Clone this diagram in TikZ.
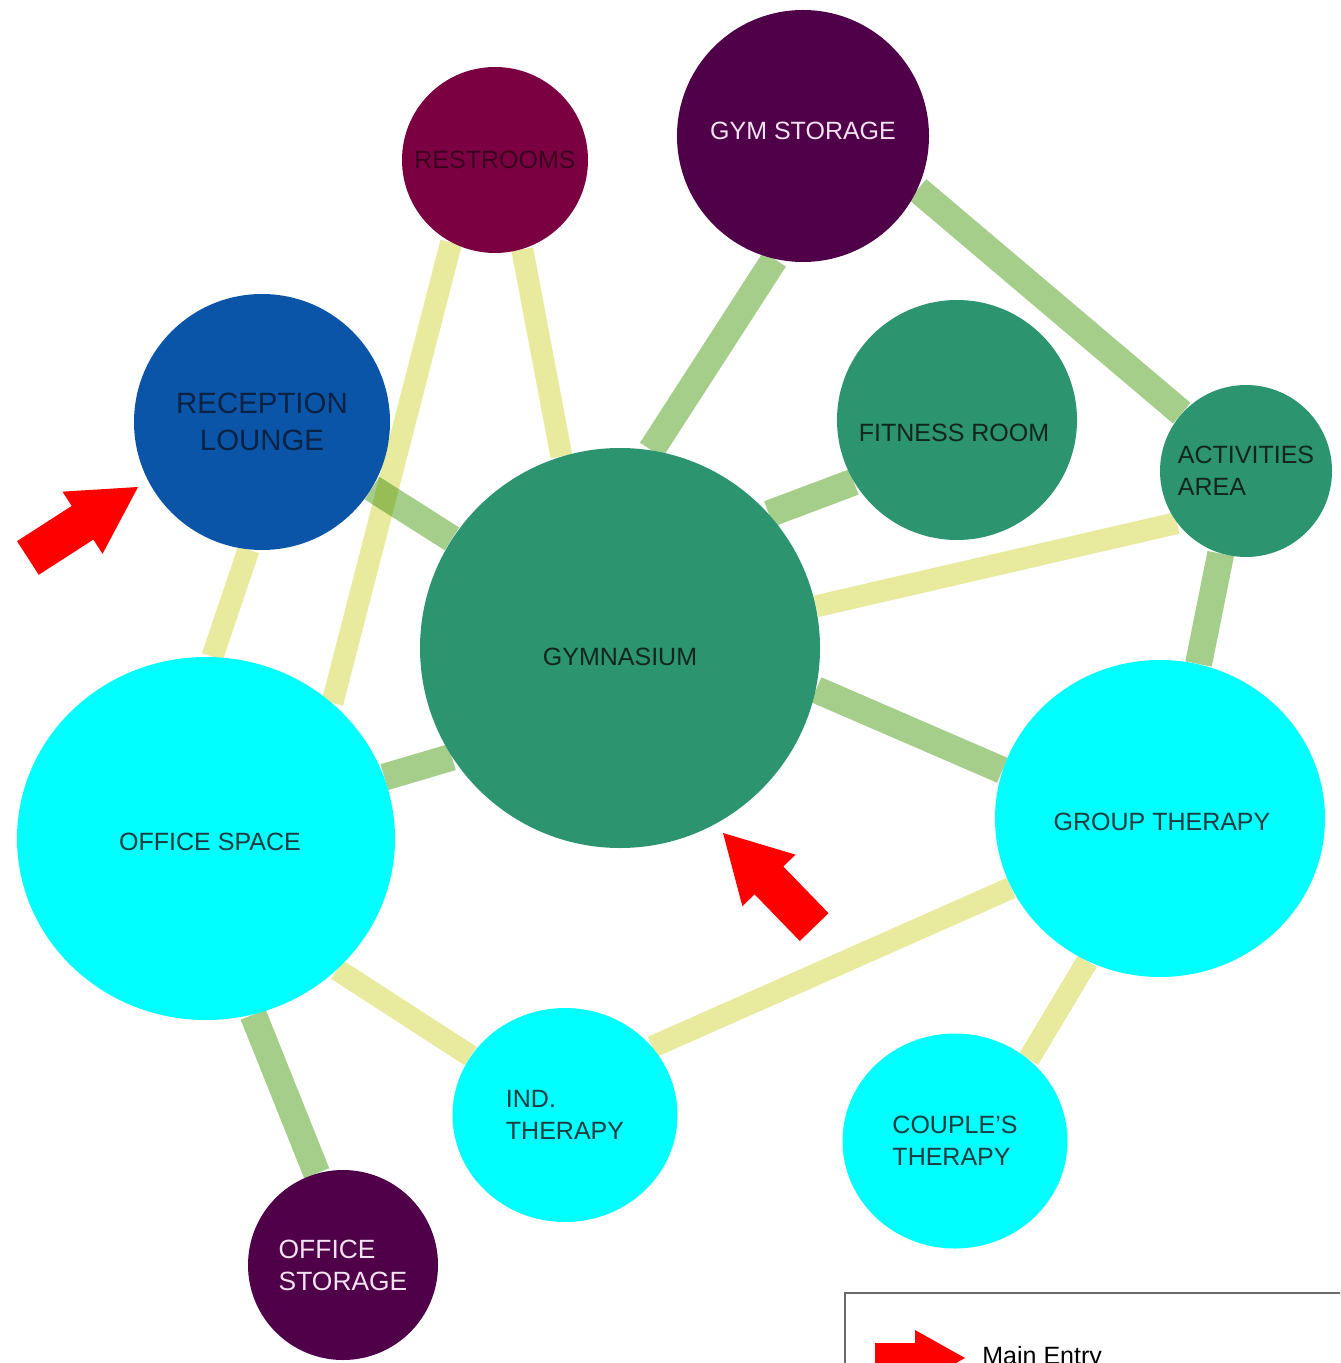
\documentclass[tikz,border=0pt]{standalone}
\usepackage{fontspec}
\setmainfont{Liberation Sans}
\usetikzlibrary{backgrounds,shapes.geometric}
\definecolor{edgeY}{HTML}{E8EB9E}
\definecolor{edgeG}{HTML}{A5CE8B}
\definecolor{roomgreen}{HTML}{2D9470}
\definecolor{roomcyan}{HTML}{00FFFF}
\definecolor{roomblue}{HTML}{0A55A8}
\definecolor{roommagenta}{HTML}{7A0042}
\definecolor{roompurple}{HTML}{4F0048}
\definecolor{arrowred}{HTML}{FF0000}
\definecolor{txtdark}{HTML}{10261F}
\definecolor{txtcyan}{HTML}{1A3C40}
\definecolor{txtrest}{HTML}{3A0020}
\definecolor{txtblue}{HTML}{0A2244}
\definecolor{txtlight}{HTML}{F4E2F0}
\definecolor{legendline}{HTML}{6A6A6A}
\newcommand\entryarrow[3]{%
  \fill[entry,shift={(#1)},rotate=#2,scale=#3]
    (0,0) -- (-66,-37) -- (-66,-20) -- (-131,-20) -- (-131,20) -- (-66,20) -- (-66,37) -- cycle;}
\begin{document}
\begin{tikzpicture}[x=0.5pt,y=-0.5pt,
  room/.style={circle,inner sep=0pt,draw=none,align=center,
    font=\fontsize{12.5}{16}\selectfont},
  oval/.style={ellipse,inner sep=0pt,draw=none,align=center,
    font=\fontsize{12.5}{16}\selectfont},
  rlabel/.style={inner sep=0pt,align=center,font=\fontsize{12.5}{16}\selectfont},
  yel/.style={line width=11pt,draw=edgeY},
  grn/.style={line width=13.5pt,draw=edgeG,blend mode=multiply},
  entry/.style={fill=arrowred,draw=none}]
\useasboundingbox (0,0) rectangle (1340,1363);
\clip (0,0) rectangle (1340,1363);
% rooms
\node[room,minimum size=93pt,fill=roommagenta,text=txtrest] (rest) at (495,160) {RESTROOMS};
\node[room,minimum size=126pt,fill=roompurple,
  label={[rlabel,text=txtlight,yshift=2.5pt]center:GYM STORAGE}] (gst) at (803,136) {};
\node[room,minimum size=128pt,fill=roomblue,text=txtblue,
  font=\fontsize{14.7}{18.5}\selectfont] (rec) at (262,422) {RECEPTION\\LOUNGE};
\node[room,minimum size=120pt,fill=roomgreen,
  label={[rlabel,text=txtdark,yshift=-6.5pt,xshift=-1.5pt]center:FITNESS ROOM}] (fit) at (957,420) {};
\node[room,minimum size=86pt,fill=roomgreen,text=txtdark,align=left] (act) at (1246,471) {ACTIVITIES\\AREA};
\node[room,minimum size=200pt,fill=roomgreen,
  label={[rlabel,text=txtdark,yshift=-4.5pt]center:GYMNASIUM}] (gym) at (620,648) {};
\node[oval,minimum width=189pt,minimum height=181.5pt,fill=roomcyan,
  label={[rlabel,text=txtcyan,yshift=-1.5pt,xshift=2pt]center:OFFICE SPACE}] (off) at (206,838.5) {};
\node[oval,minimum width=165pt,minimum height=158.5pt,fill=roomcyan,
  label={[rlabel,text=txtcyan,yshift=-1.5pt,xshift=1pt]center:GROUP THERAPY}] (grp) at (1160,818.5) {};
\node[oval,minimum width=112.5pt,minimum height=107pt,fill=roomcyan,text=txtcyan,align=left] (ind) at (565,1115) {IND.\\THERAPY};
\node[oval,minimum width=112.5pt,minimum height=107.5pt,fill=roomcyan,text=txtcyan,align=left] (cpl) at (955,1141) {COUPLE'S\\THERAPY};
\node[room,minimum size=95pt,fill=roompurple,text=txtlight,align=left,
  font=\fontsize{13.2}{16}\selectfont] (ost) at (343,1265) {OFFICE\\STORAGE};
% connectors
\begin{scope}[on background layer]
\draw[yel] (rest.242) -- (off.47);
\draw[yel] (rest.287) -- (gym.107);
\draw[yel] (rec.264) -- (off.88);
\draw[yel] (gym.12) -- (act.217);
\draw[yel] (off.315) -- (ind.148);
\draw[yel] (ind.38) -- (grp.205);
\draw[yel] (grp.243) -- (cpl.48);
\draw[grn] (gst.257) -- (gym.81);
\draw[grn] (gst.335) -- (act.138);
\draw[grn] (rec.329) -- (gym.147);
\draw[grn] (fit.211) -- (gym.42);
\draw[grn] (gym.213) -- (off.19);
\draw[grn] (gym.348) -- (grp.163);
\draw[grn] (act.253) -- (grp.76);
\draw[grn] (off.285) -- (ost.106);
\end{scope}
% entry arrows
\coordinate (tipA) at (138,487);
\coordinate (tipB) at (723,833);
\entryarrow{tipA}{32.8}{1}
\entryarrow{tipB}{134.1}{1}
% legend
\coordinate (legTL) at (845,1293);
\draw[legendline,line width=1pt] (845,1370) -- (legTL) -- (1350,1293);
\fill[entry] (875,1343) -- (915,1343) -- (915,1330) -- (965,1358) -- (915,1386) -- (915,1373) -- (875,1373) -- cycle;
\node[anchor=base west,inner sep=0pt,font=\fontsize{12.5}{15}\selectfont,text=black] (legtext) at (982,1364) {Main Entry};
\end{tikzpicture}
\end{document}
